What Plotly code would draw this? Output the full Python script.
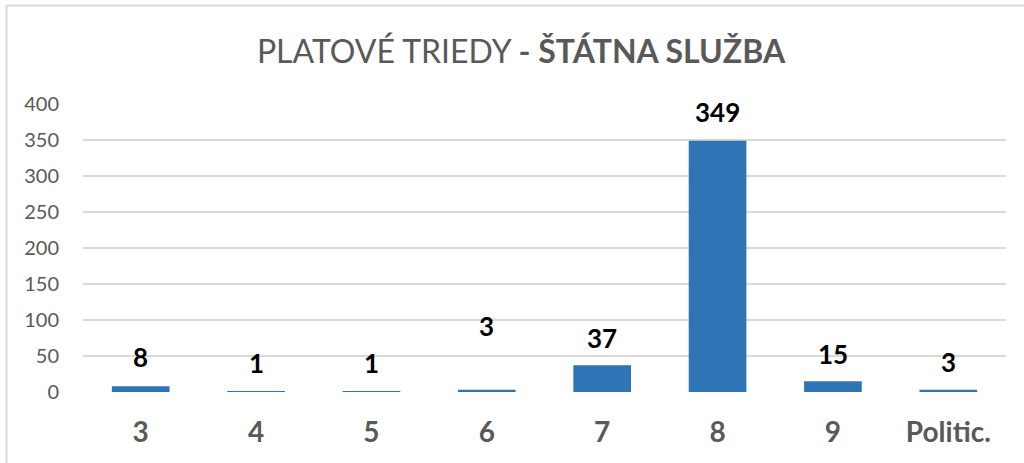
import plotly.graph_objects as go

categories = ["3", "4", "5", "6", "7", "8", "9", "Politic."]
values = [8, 1, 1, 3, 37, 349, 15, 3]
y_ticks = [0, 50, 100, 150, 200, 250, 300, 350, 400]

# label vertical offsets in px (style only)
label_shift = [29, 28, 28, 64, 27, 29, 27, 28]

W, H = 1024, 463
ml, mr, mt, mb = 83, 18, 104, 71
pw, ph = W - ml - mr, H - mt - mb

fig = go.Figure()
fig.add_trace(go.Bar(
    x=categories, y=values,
    marker=dict(color="#2E75B6", line=dict(width=0)),
    hoverinfo="x+y",
))

for i, (v, s) in enumerate(zip(values, label_shift)):
    fig.add_annotation(x=i, y=v, xref="x", yref="y", text=f"<b>{v}</b>", showarrow=False,
                       yanchor="middle", yshift=s,
                       font=dict(family="Lato", size=26, color="#000000"))

# outer chart border (left and top visible)
bx = (6.5 - ml) / pw
by = 1 + (mt - 5.5) / ph
fig.add_shape(type="line", xref="paper", yref="paper", x0=bx, x1=1.2, y0=by, y1=by,
              line=dict(color="#D9D9D9", width=2))
fig.add_shape(type="line", xref="paper", yref="paper", x0=bx, x1=bx, y0=by, y1=-0.5,
              line=dict(color="#D9D9D9", width=2))

fig.update_layout(
    width=W, height=H,
    margin=dict(l=ml, r=mr, t=mt, b=mb, autoexpand=False),
    paper_bgcolor="white", plot_bgcolor="white",
    bargap=0.5,
    showlegend=False,
    title=dict(text="PLATOVÉ TRIEDY <b>- ŠTÁTNA SLUŽBA</b>",
               x=521 / W, xanchor="center", xref="container",
               y=1 - 52 / H, yanchor="middle", yref="container",
               font=dict(family="Lato", size=32, color="#595959")),
    xaxis=dict(type="category", range=[-0.5, len(categories) - 0.5],
               showgrid=False, zeroline=False, showline=False, ticks="",
               tickfont=dict(family="Lato", size=28, color="#595959"),
               tickprefix="<b>", ticksuffix="</b>",
               ticklabelstandoff=21),
    yaxis=dict(range=[0, 400], tickvals=y_ticks, showgrid=True,
               gridcolor="#D9D9D9", gridwidth=1.5, zeroline=False, showline=False,
               ticks="", ticklabelstandoff=23,
               tickfont=dict(family="Lato", size=20, color="#595959")),
)

fig.write_html("out.html", config={"displayModeBar": False},
               post_script="document.body.style.margin='0';document.body.style.overflow='hidden';")
